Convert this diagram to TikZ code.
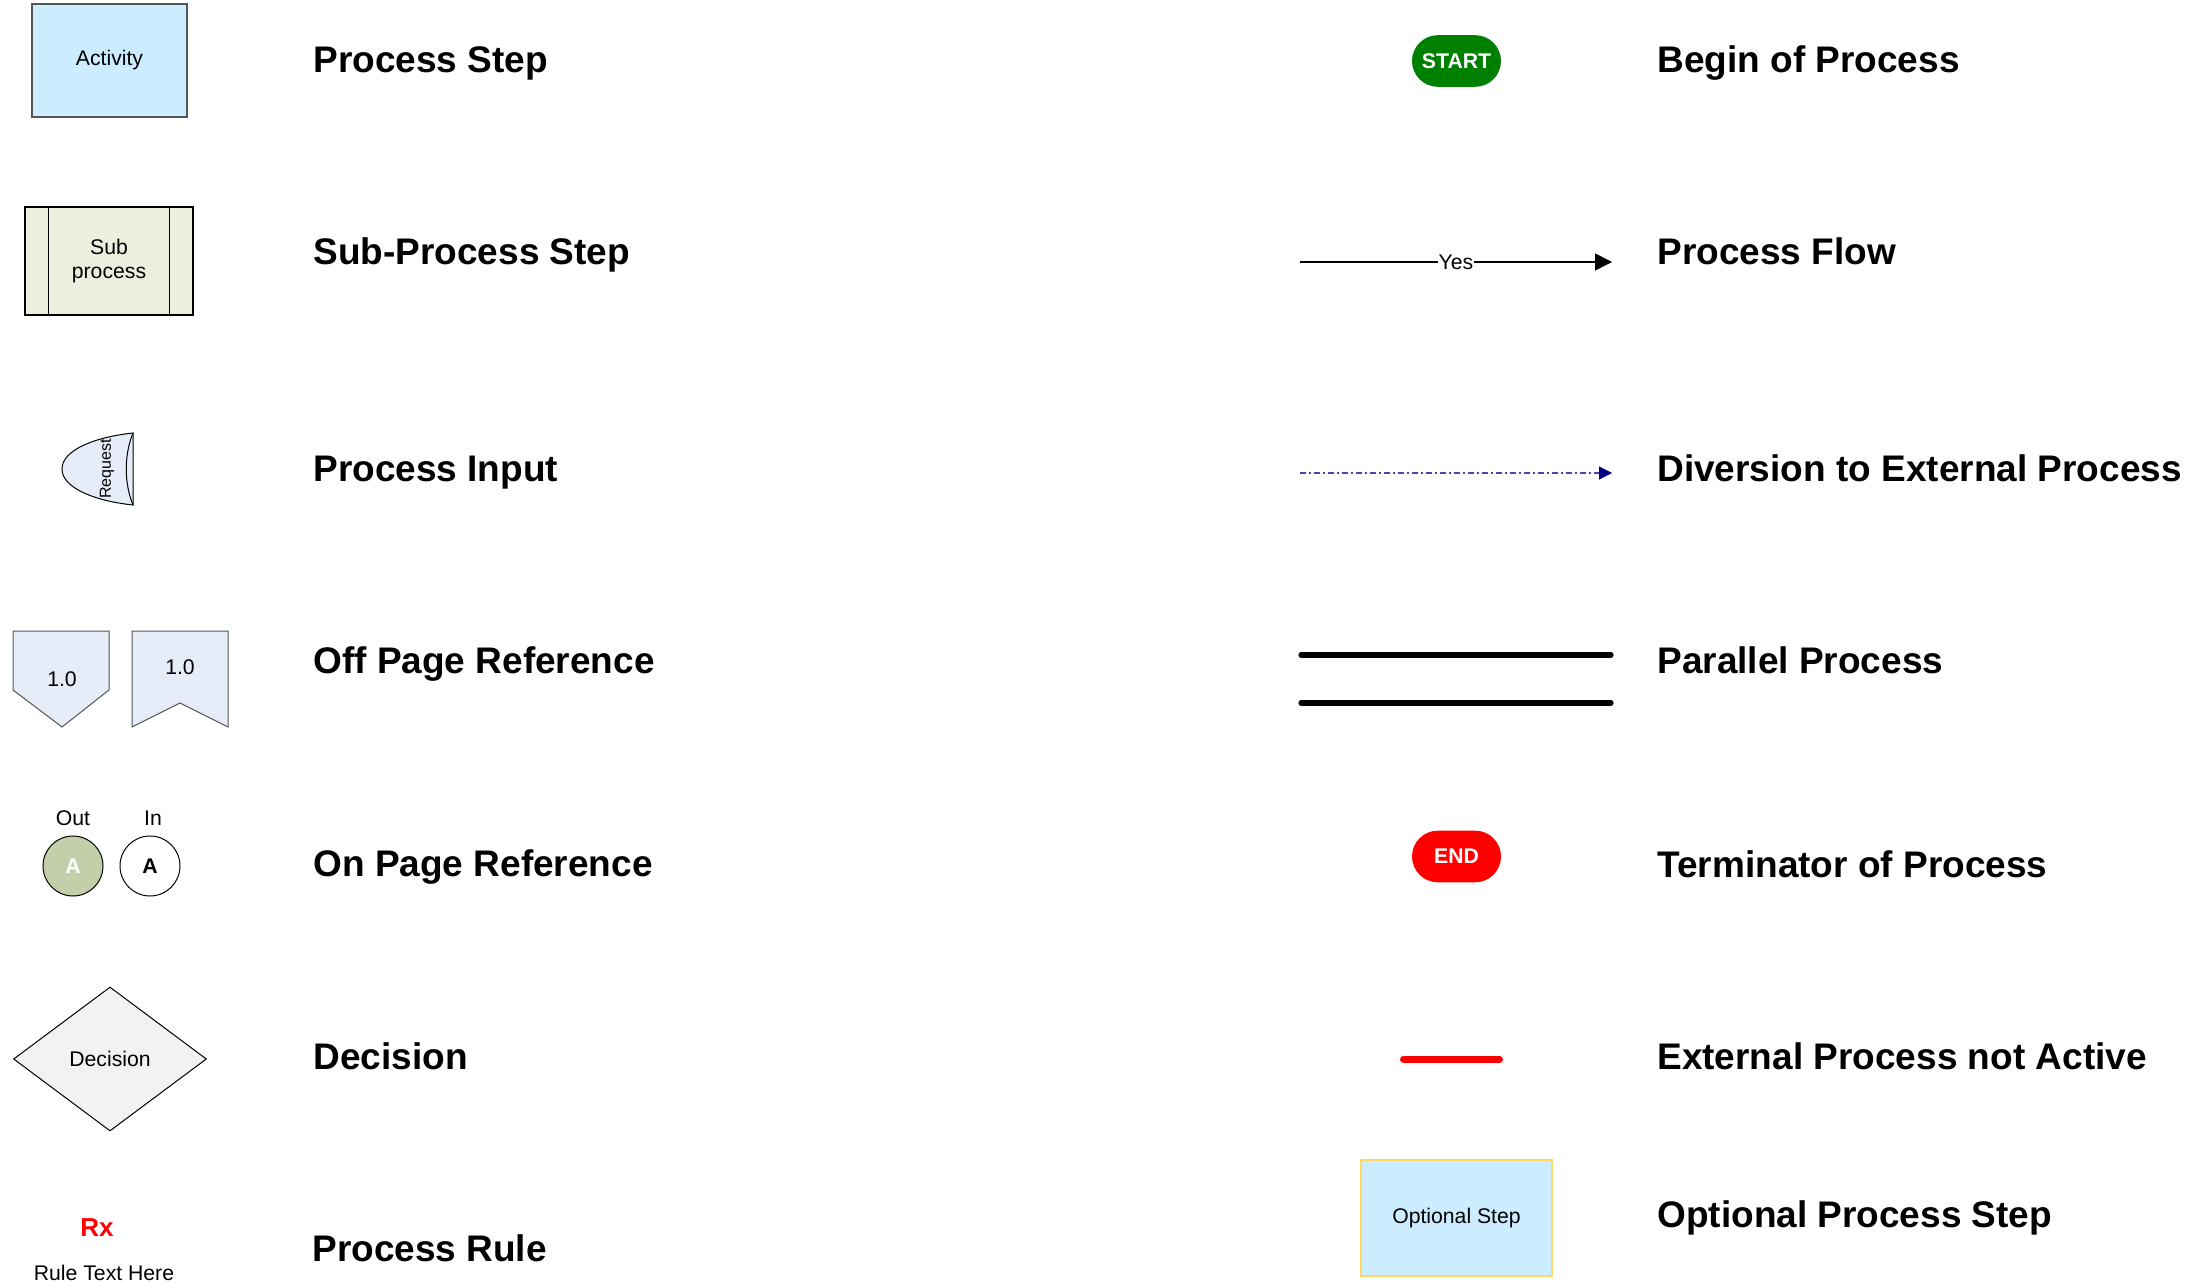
\documentclass[tikz,border=0pt]{standalone}
\usepackage{fontspec}
\setmainfont{Liberation Sans}
\usetikzlibrary{shapes.geometric,arrows.meta,calc}
\definecolor{actblue}{RGB}{204,236,255}
\definecolor{subgreen}{RGB}{235,240,222}
\definecolor{inblue}{RGB}{230,237,248}
\definecolor{outgreen}{RGB}{196,207,170}
\definecolor{decgray}{RGB}{242,242,242}
\definecolor{startgreen}{RGB}{0,128,0}
\definecolor{navyblue}{RGB}{0,0,128}
\definecolor{dashblue}{RGB}{70,70,170}
\definecolor{optborder}{RGB}{255,215,100}
\definecolor{bordergray}{RGB}{85,85,85}
\begin{document}
\begin{tikzpicture}[x=0.5pt,y=-0.5pt,
  lbl/.style={anchor=base west,inner sep=0pt,font=\fontsize{18.5}{22}\selectfont\bfseries},
  small/.style={font=\fontsize{10.6}{12.5}\selectfont},
  smallbold/.style={font=\fontsize{10.6}{12.5}\selectfont\bfseries},
  pill/.style={rectangle,rounded corners=12.9pt,minimum width=44.5pt,minimum height=25.8pt,inner sep=0pt,text=white,smallbold},
  boxshape/.style={rectangle,inner sep=0pt,small,align=center}
]
\useasboundingbox (0,0) rectangle (2210,1283);

% ---------- left column symbols ----------
\node[boxshape,draw=bordergray,line width=0.65pt,fill=actblue,minimum width=77.5pt,minimum height=56.5pt] (act) at (109.5,60.5) {\raisebox{-1.5pt}{Activity}};

\node[boxshape,draw=black,line width=0.6pt,fill=subgreen,minimum width=84pt,minimum height=54pt] (sub) at (109,261) {Sub\\[-0.4pt]process};
\draw[line width=0.6pt] ($(sub.north west)+(24,0)$) -- ($(sub.south west)+(24,0)$);
\draw[line width=0.6pt] ($(sub.north east)+(-24,0)$) -- ($(sub.south east)+(-24,0)$);

\coordinate (rqt) at (133,433);
\coordinate (rqb) at (133,505);
\coordinate (rql) at (62,469);
\draw[line width=0.5pt,fill=inblue] (rqt) .. controls (95,437) and (62,450) .. (rql) .. controls (62,488) and (95,501) .. (rqb) -- cycle;
\draw[line width=0.5pt] (rqt) .. controls (124,455) and (124,483) .. (rqb);
\node[rotate=90,inner sep=0pt,font=\fontsize{8}{9}\selectfont] (req) at (107,469) {Request};

\coordinate (o1a) at (13,631);
\coordinate (o1b) at (109,631);
\coordinate (o1c) at (109,690);
\coordinate (o1d) at (62,727);
\coordinate (o1e) at (13,690);
\draw[line width=0.5pt,draw=bordergray,fill=inblue] (o1a) -- (o1b) -- (o1c) -- (o1d) -- (o1e) -- cycle;
\node[small] (off1) at (62,679) {1.0};

\coordinate (o2a) at (132,631);
\coordinate (o2b) at (228,631);
\coordinate (o2c) at (228,727);
\coordinate (o2d) at (180,703);
\coordinate (o2e) at (132,727);
\draw[line width=0.5pt,draw=bordergray,fill=inblue] (o2a) -- (o2b) -- (o2c) -- (o2d) -- (o2e) -- cycle;
\node[small] (off2) at (180,667) {1.0};

\node[small] (outl) at (73,818) {Out};
\node[small] (inl) at (153,818) {In};
\node[circle,draw=black,line width=0.5pt,fill=outgreen,minimum size=30pt,inner sep=0pt,smallbold,text=white] (outc) at (73,866) {A};
\node[circle,draw=black,line width=0.5pt,fill=white,minimum size=30pt,inner sep=0pt,smallbold] (inc) at (150,866) {A};

\node[diamond,aspect=1.34,draw=black,line width=0.5pt,fill=decgray,minimum width=96.5pt,minimum height=72pt,inner sep=0pt,small] (dec) at (110,1059) {Decision};

\node[text=red,font=\fontsize{13}{15}\selectfont\bfseries] (rx) at (97,1228) {Rx};
\node[small] (rule) at (104,1273) {Rule Text Here};

% ---------- left column labels ----------
\node[lbl] (l1) at (313,73) {Process Step};
\node[lbl] (l2) at (313,265) {Sub-Process Step};
\node[lbl] (l3) at (313,481) {Process Input};
\node[lbl] (l4) at (313,673) {Off Page Reference};
\node[lbl] (l5) at (313,876) {On Page Reference};
\node[lbl] (l6) at (313,1069) {Decision};
\node[lbl] (l7) at (312,1261) {Process Rule};

% ---------- right column symbols ----------
\node[pill,fill=startgreen] (start) at (1456.5,61) {START};

\coordinate (f1) at (1300,262);
\coordinate (f2) at (1612,262);
\draw[line width=0.75pt,-{Triangle[length=8.5pt,width=8.5pt]}] (f1) -- node[fill=white,inner sep=0.5pt,small] (yes) {Yes} (f2);

\coordinate (d1) at (1300,473);
\coordinate (d2) at (1612,473);
\draw[dashblue,line width=0.55pt,dash pattern=on 3pt off 1.5pt on 1pt off 1.5pt] (d1) -- ($(d2)+(-10,0)$);
\draw[navyblue,line width=0.55pt,-{Triangle[length=6.5pt,width=6.5pt]}] ($(d2)+(-10,0)$) -- (d2);

\coordinate (p1a) at (1301,655);
\coordinate (p1b) at (1611,655);
\coordinate (p2a) at (1301,703);
\coordinate (p2b) at (1611,703);
\draw[line width=2.6pt,line cap=round] (p1a) -- (p1b);
\draw[line width=2.6pt,line cap=round] (p2a) -- (p2b);

\node[pill,fill=red] (endn) at (1456.5,856.5) {END};

\coordinate (r1) at (1403.5,1059);
\coordinate (r2) at (1499.5,1059);
\draw[red,line width=3.5pt,line cap=round] (r1) -- (r2);

\node[boxshape,draw=optborder,line width=0.6pt,fill=actblue,minimum width=95.5pt,minimum height=58pt] (opt) at (1456.5,1218) {Optional Step};

% ---------- right column labels ----------
\node[lbl] (r1l) at (1657,73) {Begin of Process};
\node[lbl] (r2l) at (1657,265) {Process Flow};
\node[lbl] (r3l) at (1657,481) {Diversion to External Process};
\node[lbl] (r4l) at (1657,673) {Parallel Process};
\node[lbl] (r5l) at (1657,877) {Terminator of Process};
\node[lbl] (r6l) at (1657,1069) {External Process not Active};
\node[lbl] (r7l) at (1657,1227) {Optional Process Step};
\end{tikzpicture}
\end{document}
